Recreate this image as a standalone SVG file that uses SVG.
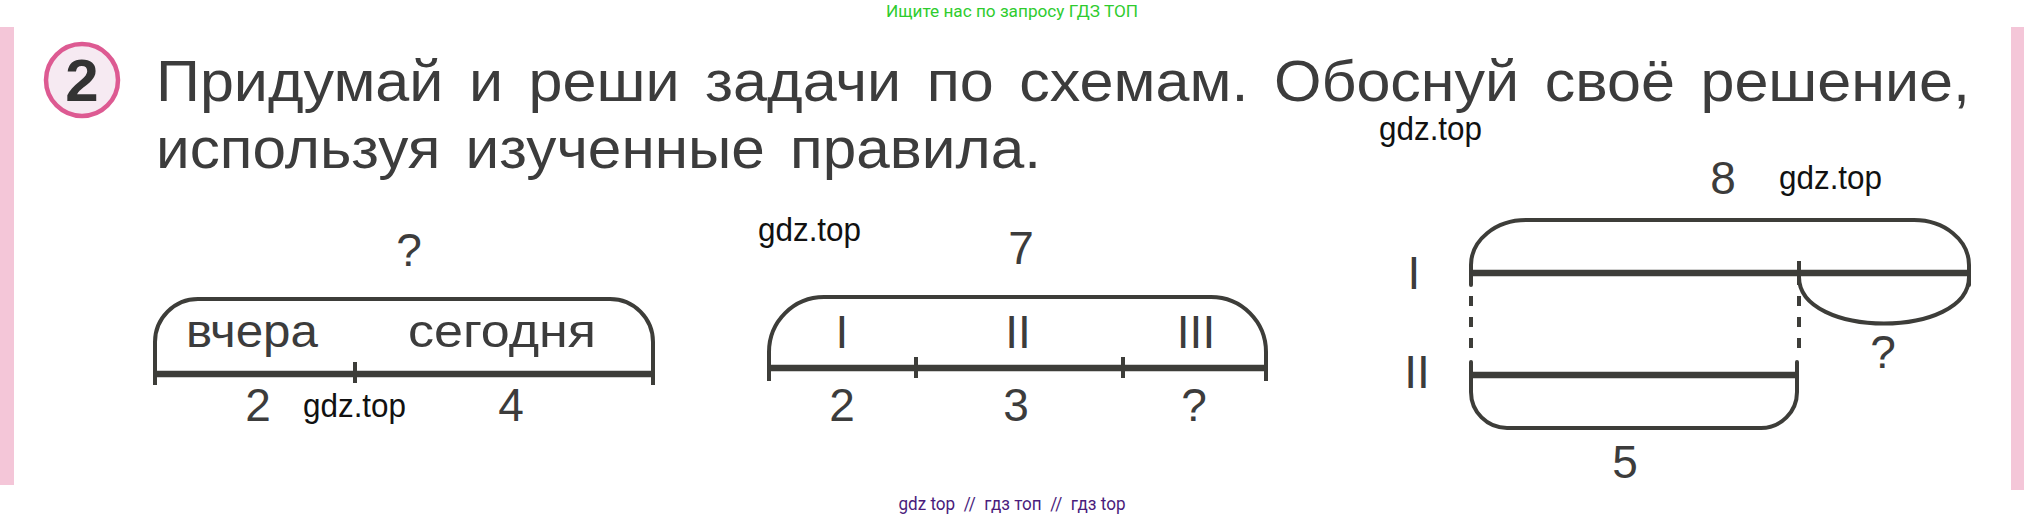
<svg xmlns="http://www.w3.org/2000/svg" width="2024" height="518" viewBox="0 0 2024 518">
<defs>
<style>
.t{font-family:"Liberation Sans",Arial,sans-serif;fill:#3c3c3c}
.title{font-size:57px;word-spacing:8px}
.lbl{font-size:46px;text-anchor:middle}
.wm{font-family:"Liberation Sans",Arial,sans-serif;font-size:34px;fill:#111}
.br{fill:none;stroke:#3d3d39;stroke-width:4;stroke-linecap:round}
.bar{fill:none;stroke:#3d3d39;stroke-width:6.5}
.tk{fill:none;stroke:#3d3d39;stroke-width:4}
.ds{fill:none;stroke:#3d3d39;stroke-width:4;stroke-dasharray:10 11}
</style>
</defs>
<rect width="2024" height="518" fill="#ffffff"/>
<rect x="0" y="27" width="14" height="458" fill="#f4c6d8"/>
<rect x="2011" y="27" width="13" height="463" fill="#f4c6d8"/>
<text x="1012" y="17" font-family="Roboto,'Liberation Sans',sans-serif" font-size="16" fill="#2ecc2e" text-anchor="middle" textLength="252" lengthAdjust="spacingAndGlyphs">Ищите нас по запросу ГДЗ ТОП</text>

<g id="badge">
<circle cx="82" cy="80" r="36" fill="#f6eaf2" stroke="#dd5a92" stroke-width="4.5"/>
<text x="82" y="101" font-family="'Liberation Sans',Arial,sans-serif" font-size="60" font-weight="bold" fill="#333" text-anchor="middle">2</text>
</g>
<g id="title">
<text class="t title" x="156" y="101" textLength="1814" lengthAdjust="spacingAndGlyphs">Придумай и реши задачи по схемам. Обоснуй своё решение,</text>
<text class="t title" x="156" y="168" textLength="885" lengthAdjust="spacingAndGlyphs">используя изученные правила.</text>
</g>

<g id="scheme1">
<g class="connectors">
<path class="br" d="M155,374 V342 A43,43 0 0 1 198,299 H610 A43,43 0 0 1 653,342 V374"/>
<line class="bar" x1="155" y1="374" x2="653" y2="374"/>
<line class="tk" x1="155" y1="362" x2="155" y2="385"/>
<line class="tk" x1="653" y1="362" x2="653" y2="385"/>
<line class="tk" x1="355" y1="362" x2="355" y2="383"/>
</g>
<text class="t lbl" x="409" y="266">?</text>
<text class="t lbl" x="252" y="347" textLength="132" lengthAdjust="spacingAndGlyphs">вчера</text>
<text class="t lbl" x="502" y="347" textLength="188" lengthAdjust="spacingAndGlyphs">сегодня</text>
<text class="t lbl" x="258" y="421">2</text>
<text class="t lbl" x="511" y="421">4</text>
</g>

<g id="scheme2">
<g class="connectors">
<path class="br" d="M769,368 V352 A55,55 0 0 1 824,297 H1211 A55,55 0 0 1 1266,352 V368"/>
<line class="bar" x1="769" y1="368" x2="1266" y2="368"/>
<line class="tk" x1="769" y1="357" x2="769" y2="381"/>
<line class="tk" x1="1266" y1="357" x2="1266" y2="381"/>
<line class="tk" x1="916" y1="357" x2="916" y2="378"/>
<line class="tk" x1="1123" y1="357" x2="1123" y2="378"/>
</g>
<text class="t lbl" x="1021" y="264">7</text>
<text class="t lbl" x="842" y="348">I</text>
<text class="t lbl" x="1018" y="348">II</text>
<text class="t lbl" x="1196" y="348">III</text>
<text class="t lbl" x="842" y="421">2</text>
<text class="t lbl" x="1016" y="421">3</text>
<text class="t lbl" x="1194" y="421">?</text>
</g>

<g id="scheme3">
<g class="connectors">
<path class="br" d="M1471,285 V265 A55,45 0 0 1 1526,220 H1914 A55,45 0 0 1 1969,265 V285"/>
<line class="bar" x1="1471" y1="273" x2="1969" y2="273"/>
<line class="tk" x1="1799" y1="261" x2="1799" y2="285"/>
<path class="br" d="M1799,277 C1799,339 1969,339 1969,277"/>
<line class="ds" x1="1471" y1="296" x2="1471" y2="349"/>
<line class="ds" x1="1799" y1="296" x2="1799" y2="349"/>
<path class="br" d="M1471,362 V392 A36,36 0 0 0 1507,428 H1761 A36,36 0 0 0 1797,392 V362"/>
<line class="bar" x1="1471" y1="375" x2="1797" y2="375"/>
</g>
<text class="t lbl" x="1414" y="289">I</text>
<text class="t lbl" x="1417" y="388">II</text>
<text class="t lbl" x="1723" y="194">8</text>
<text class="t lbl" x="1883" y="368">?</text>
<text class="t lbl" x="1625" y="478">5</text>
</g>

<g id="watermarks">
<text class="wm" x="1379" y="140" textLength="103" lengthAdjust="spacingAndGlyphs">gdz.top</text>
<text class="wm" x="1779" y="189" textLength="103" lengthAdjust="spacingAndGlyphs">gdz.top</text>
<text class="wm" x="758" y="241" textLength="103" lengthAdjust="spacingAndGlyphs">gdz.top</text>
<text class="wm" x="303" y="417" textLength="103" lengthAdjust="spacingAndGlyphs">gdz.top</text>
</g>
<text x="1012" y="510" font-family="Roboto,'Liberation Sans',sans-serif" font-size="18" fill="#4a1c7c" text-anchor="middle" textLength="227" lengthAdjust="spacingAndGlyphs" xml:space="preserve">gdz top  //  гдз топ  //  гдз top</text>
</svg>
